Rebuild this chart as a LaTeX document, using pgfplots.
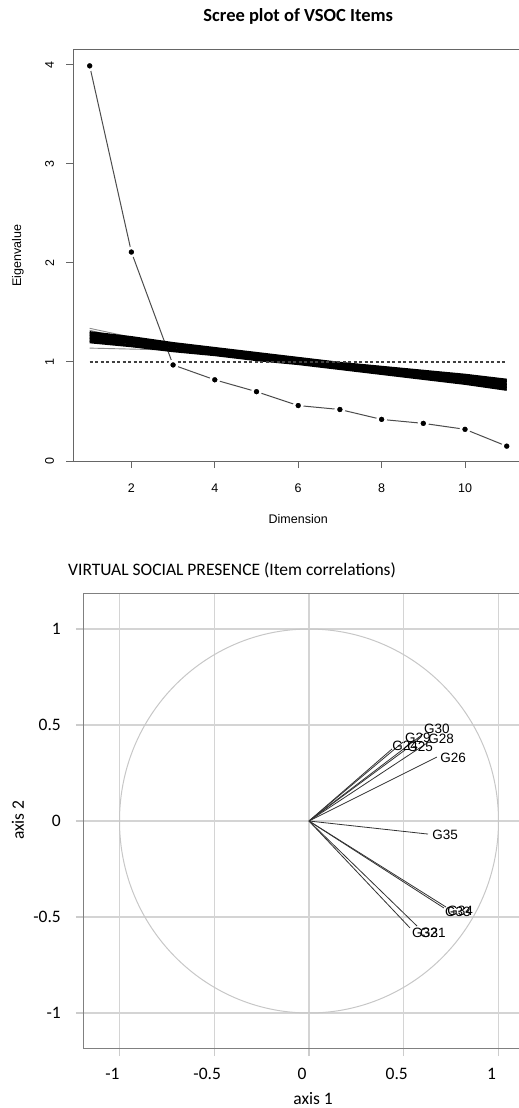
\documentclass[border=0pt]{standalone}
\usepackage{fontspec}
\setmainfont{Carlito}
\newfontfamily\arialf{Liberation Sans}
\usepackage{pgfplots}
\usepackage{pgfplotstable}
\pgfplotsset{compat=1.18}

% observed eigenvalues
\pgfplotstableread{
x  ev
1  3.99
2  2.11
3  0.97
4  0.82
5  0.70
6  0.56
7  0.52
8  0.42
9  0.38
10 0.32
11 0.15
}\screedata

% simulated / resampled eigenvalue lines
\pgfplotstableread{
x  a     b     c     d     e     f     g     h     ga    gb    gc
1  1.200 1.215 1.230 1.245 1.260 1.275 1.290 1.300 1.140 1.340 1.320
2  1.160 1.170 1.190 1.200 1.210 1.225 1.240 1.250 1.130 1.250 1.220
3  1.110 1.120 1.130 1.150 1.160 1.170 1.180 1.190 1.120 1.180 1.160
4  1.070 1.080 1.090 1.100 1.110 1.120 1.130 1.140 1.080 1.120 1.100
5  1.020 1.030 1.040 1.050 1.060 1.070 1.080 1.090 1.030 1.060 1.050
6  0.980 0.990 1.000 1.010 1.015 1.025 1.035 1.040 0.990 1.000 1.000
7  0.930 0.940 0.950 0.960 0.965 0.975 0.985 0.990 0.940 0.950 0.960
8  0.880 0.890 0.900 0.910 0.920 0.935 0.945 0.950 0.890 0.900 0.930
9  0.830 0.840 0.850 0.870 0.880 0.890 0.900 0.910 0.840 0.850 0.860
10 0.780 0.790 0.810 0.820 0.830 0.845 0.860 0.870 0.790 0.810 0.800
11 0.720 0.735 0.750 0.765 0.780 0.795 0.810 0.820 0.740 0.770 0.760
}\simdata

% item correlation arrows (end points)
\pgfplotstableread{
x y u     v
0 0 0.438 0.375
0 0 0.507 0.370
0 0 0.496 0.411
0 0 0.623 0.406
0 0 0.602 0.453
0 0 0.675 0.333
0 0 0.628 -0.068
0 0 0.712 -0.453
0 0 0.723 -0.448
0 0 0.533 -0.557
0 0 0.570 -0.547
}\arrows

% item labels
\pgfplotstableread{
lx    ly     lab
0.507 0.391  G24
0.586 0.385  G25
0.575 0.432  G29
0.697 0.427  G28
0.675 0.479  G30
0.760 0.328  G26
0.718 -0.073 G35
0.786 -0.474 G33
0.797 -0.469 G34
0.612 -0.583 G32
0.654 -0.583 G31
}\labels

\begin{document}
\begin{tikzpicture}
\useasboundingbox (0,0) rectangle (519bp,-1108bp);

% ---------------- Scree plot ----------------
\begin{axis}[
  at={(73bp,-461bp)}, anchor=south west,
  scale only axis, width=450.4bp, height=411bp,
  xmin=0.6, xmax=11.4, ymin=0, ymax=4.15,
  xtick={2,4,6,8,10}, xticklabels={},
  ytick={0,1,2,3,4}, yticklabels={},
  tick pos=left, tick align=outside, major tick length=7bp,
  axis line style={black!60, line width=1bp},
  tick style={black!60, line width=1bp},
  xlabel={Dimension}, ylabel={Eigenvalue},
  label style={font=\arialf\fontsize{12.5bp}{14bp}\selectfont, inner sep=0pt},
  xlabel style={at={(axis description cs:0.5,-0.1411)}, anchor=center},
  ylabel style={at={(axis description cs:-0.1221,0.5)}, anchor=center},
  title={Scree plot of VSOC Items},
  title style={at={(axis description cs:0.5,1.0560)}, anchor=base, inner sep=0pt, font=\bfseries\fontsize{18.5bp}{22bp}\selectfont},
  clip=false,
]
\addplot[black!70, line width=1bp, mark=*, mark size=4.2bp,
  mark options={fill=black, draw=white, line width=2.5bp, solid}] table[x=x, y=ev] {\screedata};
\addplot[black!45, line width=0.9bp] table[x=x, y=ga] {\simdata};
\addplot[black!45, line width=0.9bp] table[x=x, y=gb] {\simdata};
\addplot[black!45, line width=0.9bp] table[x=x, y=gc] {\simdata};
\addplot[black, line width=2.3bp] table[x=x, y=a] {\simdata};
\addplot[black, line width=2.3bp] table[x=x, y=b] {\simdata};
\addplot[black, line width=2.3bp] table[x=x, y=c] {\simdata};
\addplot[black, line width=2.3bp] table[x=x, y=d] {\simdata};
\addplot[black, line width=2.3bp] table[x=x, y=e] {\simdata};
\addplot[black, line width=2.3bp] table[x=x, y=f] {\simdata};
\addplot[black, line width=2.3bp] table[x=x, y=g] {\simdata};
\addplot[black, line width=2.3bp] table[x=x, y=h] {\simdata};
\addplot[black!75, line width=1.2bp, dash pattern=on 3bp off 2.5bp] coordinates {(1,1) (11,1)};
% tick labels
\node[inner sep=0pt, font=\arialf\fontsize{12.5bp}{14bp}\selectfont] at (axis cs:2,-0.273) {2};
\node[inner sep=0pt, font=\arialf\fontsize{12.5bp}{14bp}\selectfont] at (axis cs:4,-0.273) {4};
\node[inner sep=0pt, font=\arialf\fontsize{12.5bp}{14bp}\selectfont] at (axis cs:6,-0.273) {6};
\node[inner sep=0pt, font=\arialf\fontsize{12.5bp}{14bp}\selectfont] at (axis cs:8,-0.273) {8};
\node[inner sep=0pt, font=\arialf\fontsize{12.5bp}{14bp}\selectfont] at (axis cs:10,-0.273) {10};
\node[inner sep=0pt, rotate=90, font=\arialf\fontsize{12.5bp}{14bp}\selectfont] at (axis cs:0.041,0) {0};
\node[inner sep=0pt, rotate=90, font=\arialf\fontsize{12.5bp}{14bp}\selectfont] at (axis cs:0.041,1) {1};
\node[inner sep=0pt, rotate=90, font=\arialf\fontsize{12.5bp}{14bp}\selectfont] at (axis cs:0.041,2) {2};
\node[inner sep=0pt, rotate=90, font=\arialf\fontsize{12.5bp}{14bp}\selectfont] at (axis cs:0.041,3) {3};
\node[inner sep=0pt, rotate=90, font=\arialf\fontsize{12.5bp}{14bp}\selectfont] at (axis cs:0.041,4) {4};
\end{axis}

% ---------------- Correlation circle ----------------
\begin{axis}[
  at={(83.5bp,-1048.5bp)}, anchor=south west,
  scale only axis, width=451bp, height=455bp,
  xmin=-1.19, xmax=1.19, ymin=-1.185, ymax=1.185,
  xtick={-1,-0.5,0,0.5,1}, xticklabels={-1,-0.5,0,0.5,1},
  ytick={-1,-0.5,0,0.5,1}, yticklabels={-1,-0.5,0,0.5,1},
  tick pos=left, tick align=outside, major tick length=7.5bp,
  grid=major, grid style={black!17, line width=1.3bp},
  axis line style={black!50, line width=1bp},
  every tick/.style={black!20, line width=1.3bp},
  ticklabel style={font=\fontsize{17.5bp}{20bp}\selectfont, text=black, inner sep=0pt},
  xticklabel style={anchor=north, xshift=-7bp},
  yticklabel style={anchor=east},
  xticklabel shift=12bp, yticklabel shift=15bp,
  xlabel={axis 1}, ylabel={axis 2},
  label style={font=\fontsize{17.5bp}{20bp}\selectfont, inner sep=0pt},
  xlabel style={at={(axis description cs:0.509,-0.1110)}, anchor=center},
  ylabel style={at={(axis description cs:-0.1452,0.502)}, anchor=center},
  clip=false,
]
\draw[black!22, line width=1bp] (axis cs:0,0) ellipse [x radius=1, y radius=1];
\addplot[black!80, line width=0.8bp, quiver={u=\thisrow{u}, v=\thisrow{v}}] table[x=x, y=y] {\arrows};
\addplot[draw=none, mark=none, nodes near coords, point meta=explicit symbolic,
  every node near coord/.style={anchor=center, inner sep=0pt, text=black,
    font=\arialf\fontsize{13.5bp}{15bp}\selectfont}]
  table[x=lx, y=ly, meta=lab] {\labels};
\node[anchor=base west, inner sep=0pt, font=\fontsize{17.5bp}{20bp}\selectfont]
  at (axis description cs:-0.0344,1.0385) {VIRTUAL SOCIAL PRESENCE (Item correlations)};
\end{axis}
\end{tikzpicture}
\end{document}
